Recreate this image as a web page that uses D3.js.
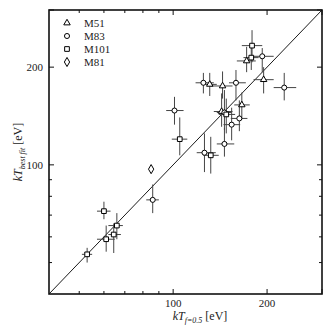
<!DOCTYPE html>
<html>
<head>
<meta charset="utf-8">
<script src="https://cdn.jsdelivr.net/npm/d3@7"></script>
<style>
  body { margin: 0; background: #fff; }
  svg { display: block; font-family: "Liberation Serif", "DejaVu Serif", serif; }
</style>
</head>
<body>
<svg id="chart" width="327" height="327"></svg>
<script>
// data (eV)
var galaxies = ['M51', 'M83', 'M101', 'M81'];

var pointGalaxy = ['M101','M101','M51','M83','M51','M83','M83','M51','M51','M83',
                   'M83','M101','M83','M83','M101','M51','M83','M101','M51','M83',
                   'M83','M81','M83','M101','M101','M101','M101','M101'];
var kTf    = [179, 178, 172, 193, 195, 227, 125, 131, 144, 159,
              101, 105, 146, 126, 132, 143, 146, 148, 166, 163,
              154,  85,  86,  60,  66,  61, 64.5, 53];
var kTfLo  = [166, 168, 160, 180, 181, 210, 118, 124, 132, 151,
               95,  99, 138, 119, 125, 135, 138, 140, 157, 153,
              145, null, 82,  57,  62,  57,  62,  51];
var kTfHi  = [193, 188, 184, 210, 210, 248, 135, 138, 155, 171,
              108, 111, 157, 137, 140, 155, 154, 158, 176, 173,
              164, null, 90,  63,  69,  65,  68,  55];
var kTbest   = [233, 214, 209, 216, 183, 173, 179, 177, 175, 179,
                147, 120, 116, 109, 107, 146, 145, 143, 153, 139,
                133,  97,  78,  72,  65,  59,  61,  53];
var kTbestLo = [207, 196, 193, 193, 166, 158, 166, 163, 160, 158,
                133, 107, 106,  95,  94, 131, 128, 125, 138, 127,
                119, null, 71,  68,  59,  54, 53.5, 50];
var kTbestHi = [260, 231, 231, 229, 200, 192, 192, 192, 194, 196,
                162, 140, 130, 125, 122, 166, 170, 160, 167, 158,
                150, null, 87,  77,  71,  65,  66, 55.5];

var domain = [40, 300];
var majorTicks = [100, 200, 300];
var minorTicks = [50, 60, 70, 80, 90];
var tickLabels = ['100', '200'];

var svg = d3.select('#chart');
var pLeft = 49, pRight = 322, pTop = 10, pBottom = 294;

var x = d3.scaleLog().domain(domain).range([pLeft, pRight]);
var y = d3.scaleLog().domain(domain).range([pBottom, pTop]);

var pts = kTf.map(function(d, i) {
  return { g: pointGalaxy[i], x: d, xl: kTfLo[i], xh: kTfHi[i],
           y: kTbest[i], yl: kTbestLo[i], yh: kTbestHi[i] };
});

// y = x line
svg.append('line')
  .attr('x1', x(domain[0])).attr('y1', y(domain[0]))
  .attr('x2', x(domain[1])).attr('y2', y(domain[1]))
  .attr('stroke', '#000').attr('stroke-width', 0.9);

// error bars
var eb = svg.append('g').attr('class', 'errors')
  .attr('stroke', '#444').attr('stroke-width', 1);
pts.filter(function(d) { return d.xl != null; }).forEach(function(d) {
  eb.append('line').attr('x1', x(d.xl)).attr('x2', x(d.xh))
    .attr('y1', y(d.y)).attr('y2', y(d.y));
  eb.append('line').attr('x1', x(d.x)).attr('x2', x(d.x))
    .attr('y1', y(d.yl)).attr('y2', y(d.yh));
});

var shape = {
  M51: d3.symbol().type(d3.symbolTriangle).size(18),
  M83: d3.symbol().type(d3.symbolCircle).size(20),
  M101: d3.symbol().type(d3.symbolSquare).size(22),
  M81: d3.symbol().type(d3.symbolDiamond).size(24)
};

svg.append('g').attr('class', 'node')
  .selectAll('path')
  .data(pts)
  .enter().append('path')
  .attr('d', function(d) { return shape[d.g](); })
  .attr('transform', function(d) { return 'translate(' + x(d.x) + ',' + y(d.y) + ')'; })
  .attr('fill', '#fff')
  .attr('stroke', '#000')
  .attr('stroke-width', 1);

// frame
svg.append('rect')
  .attr('x', pLeft).attr('y', pTop)
  .attr('width', pRight - pLeft).attr('height', pBottom - pTop)
  .attr('fill', 'none').attr('stroke', '#111').attr('stroke-width', 1.6);

// ticks on all four sides, pointing inward
var tk = svg.append('g').attr('stroke', '#111').attr('stroke-width', 1);
function ticks(vals, len) {
  vals.forEach(function(v) {
    tk.append('line').attr('x1', x(v)).attr('x2', x(v)).attr('y1', pBottom).attr('y2', pBottom - len);
    tk.append('line').attr('x1', x(v)).attr('x2', x(v)).attr('y1', pTop).attr('y2', pTop + len);
    tk.append('line').attr('x1', pLeft).attr('x2', pLeft + len).attr('y1', y(v)).attr('y2', y(v));
    tk.append('line').attr('x1', pRight).attr('x2', pRight - len).attr('y1', y(v)).attr('y2', y(v));
  });
}
ticks(majorTicks, 5);
ticks(minorTicks, 3);

tickLabels.forEach(function(t) {
  var v = +t;
  svg.append('text').attr('x', x(v)).attr('y', pBottom + 13)
    .attr('text-anchor', 'middle').attr('font-size', 11).attr('fill', '#222').text(t);
  svg.append('text').attr('x', pLeft - 6).attr('y', y(v) + 4)
    .attr('text-anchor', 'end').attr('font-size', 11).attr('fill', '#222').text(t);
});

// axis titles
var xt = svg.append('text').attr('x', 200).attr('y', 320)
  .attr('text-anchor', 'middle').attr('font-size', 12).attr('fill', '#222');
xt.append('tspan').attr('font-style', 'italic').text('kT');
xt.append('tspan').attr('font-style', 'italic').attr('font-size', 8).attr('dy', 3).text('f=0.5');
xt.append('tspan').attr('dy', -3).text(' [eV]');

var yt = svg.append('text')
  .attr('transform', 'translate(22,' + ((pTop + pBottom) / 2) + ') rotate(-90)')
  .attr('text-anchor', 'middle').attr('font-size', 12).attr('fill', '#222');
yt.append('tspan').attr('font-style', 'italic').text('kT');
yt.append('tspan').attr('font-style', 'italic').attr('font-size', 8).attr('dy', 3).text('best fit');
yt.append('tspan').attr('dy', -3).text(' [eV]');

// legend
var lg = svg.append('g').attr('class', 'legend');
galaxies.forEach(function(g, i) {
  var ly = 23 + i * 13;
  lg.append('path').attr('d', shape[g]())
    .attr('transform', 'translate(67,' + ly + ')')
    .attr('fill', '#fff').attr('stroke', '#000').attr('stroke-width', 1);
  lg.append('text').attr('x', 84).attr('y', ly + 4)
    .attr('font-size', 11).attr('fill', '#222').text(g);
});
</script>
</body>
</html>
